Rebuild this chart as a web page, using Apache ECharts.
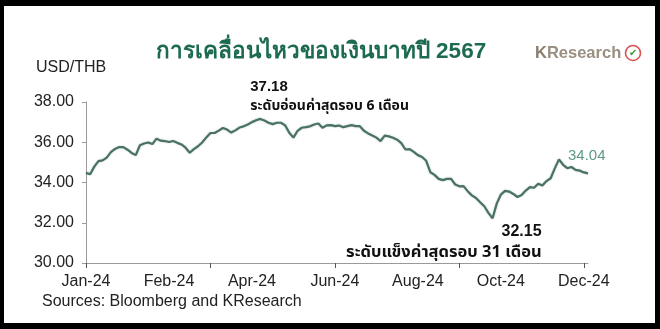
<!DOCTYPE html>
<html>
<head>
<meta charset="utf-8">
<script src="https://cdn.jsdelivr.net/npm/echarts@6/dist/echarts.min.js"></script>
<style>
html,body{margin:0;padding:0;background:#fff;}
#c{width:660px;height:329px;}
</style>
</head>
<body>
<div id="c"></div>
<script>
// USD/THB 2024
var usdthb = [
34.48,34.41,34.79,35.06,35.10,35.24,35.51,35.67,35.76,35.76,
35.63,35.47,35.36,35.85,35.94,35.99,35.91,36.18,36.08,36.06,
36.01,36.06,35.97,35.89,35.73,35.48,35.66,35.80,35.99,36.24,
36.46,36.46,36.58,36.71,36.63,36.48,36.59,36.73,36.79,36.88,
37.00,37.09,37.16,37.08,36.97,36.90,36.97,36.97,36.84,36.47,
36.23,36.57,36.72,36.75,36.79,36.88,36.93,36.72,36.84,36.85,
36.80,36.83,36.75,36.80,36.85,36.80,36.80,36.57,36.44,36.34,
36.23,36.06,36.33,36.29,36.22,36.13,35.96,35.64,35.66,35.52,
35.36,35.27,35.08,34.51,34.38,34.18,34.12,34.18,34.18,33.90,
33.81,33.82,33.57,33.36,33.23,33.02,32.82,32.49,32.22,32.95,
33.40,33.58,33.55,33.43,33.28,33.38,33.60,33.77,33.74,33.94,
33.85,34.07,34.21,34.70,35.15,34.88,34.71,34.77,34.63,34.59,
34.50,34.45
];
var tickLabels = ['Jan-24','Feb-24','Apr-24','Jun-24','Aug-24','Oct-24','Dec-24'];
var yTicks = [30, 32, 34, 36, 38];
var labelEvery = 20;
var tickEvery = 30;
var maxIdx = 42, maxText = '37.18', maxNote = 'ระดับอ่อนค่าสุดรอบ 6 เดือน';
var minIdx = 98, minText = '32.15', minNote = 'ระดับแข็งค่าสุดรอบ 31 เดือน';
var lastText = '34.04';

var categories = usdthb.map(function(v,i){return i;});
var FONT = '"Liberation Sans", Arial, "Noto Sans Thai", "Noto Sans", sans-serif';
var THFONT = '"Noto Sans Thai", "Noto Sans Thai UI", "Leelawadee UI", Tahoma, "Liberation Sans", sans-serif';

var chart = echarts.init(document.getElementById('c'), null, {renderer:'canvas'});
var lastIdx = usdthb.length - 1;
chart.setOption({
  animation:false,
  backgroundColor:'#ffffff',
  grid:{left:86, right:72, top:102, bottom:66, containLabel:false},
  xAxis:{
    type:'category', data:categories, boundaryGap:false,
    axisLine:{lineStyle:{color:'#9a9a9a', width:1}},
    axisTick:{show:true, interval:tickEvery-1, length:5, lineStyle:{color:'#555'}},
    axisLabel:{interval:labelEvery-1, margin:11, color:'#222', fontSize:16, fontFamily:FONT,
      formatter:function(v){var k=Number(v)/labelEvery; return tickLabels[k]||'';}},
    splitLine:{show:false}
  },
  yAxis:{
    type:'value', min:yTicks[0], max:yTicks[yTicks.length-1], interval:2,
    axisLine:{show:true, lineStyle:{color:'#9a9a9a', width:1}},
    axisTick:{show:true, length:4, lineStyle:{color:'#9a9a9a'}},
    axisLabel:{margin:12, color:'#222', fontSize:16, fontFamily:FONT,
      formatter:function(v){return v.toFixed(2);}},
    splitLine:{show:false}
  },
  series:[{
    type:'line', data:usdthb, symbol:'none', smooth:false,
    lineStyle:{color:'#4a7263', width:2.2, shadowColor:'rgba(70,111,97,0.35)', shadowBlur:2},
    markPoint:{
      symbol:'circle', symbolSize:0, silent:true,
      data:[
        {coord:[maxIdx, usdthb[maxIdx]], value:0,
         label:{show:true, position:'inside', align:'left', verticalAlign:'middle', offset:[-10,-22],
           formatter:'{a|'+maxText+'}\n{b|'+maxNote+'}',
           rich:{a:{fontSize:15, fontWeight:'bold', color:'#111', fontFamily:FONT, lineHeight:21},
                 b:{fontSize:14, fontWeight:'bold', color:'#111', fontFamily:THFONT, lineHeight:21}}}},
        {coord:[minIdx, usdthb[minIdx]], value:0,
         label:{show:true, position:'inside', align:'right', verticalAlign:'middle', offset:[49,24],
           formatter:'{a|'+minText+'}\n{b|'+minNote+'}',
           rich:{a:{fontSize:16, fontWeight:'bold', color:'#111', fontFamily:FONT, lineHeight:22, align:'right'},
                 b:{fontSize:16.5, fontWeight:'bold', color:'#111', fontFamily:THFONT, lineHeight:22, align:'right'}}}},
        {coord:[lastIdx, usdthb[lastIdx]], value:0,
         label:{show:true, position:'inside', align:'left', verticalAlign:'middle', offset:[-20,-18],
           formatter:lastText, fontSize:15, color:'#5e9985', fontFamily:FONT}}
      ]
    }
  }],
  graphic:[
    {type:'text', x:321, y:40, style:{text:'การเคลื่อนไหวของเงินบาทปี 2567', align:'center', fontSize:22.5, fontWeight:'bold', fill:'#1c6a50', font:'bold 22.5px '+THFONT}},
    {type:'text', left:535, top:45, style:{rich:{k:{fontSize:16.5, fontWeight:'bold', fill:'#8a7e6e', fontFamily:FONT},
       r:{fontSize:16.5, fontWeight:'bold', fill:'#9a8f80', fontFamily:FONT}}, text:'{k|K}{r|Research}'}},
    {type:'circle', shape:{cx:633, cy:53, r:7.5}, style:{fill:'#fff', stroke:'#d9534f', lineWidth:1.6}},
    {type:'text', x:633, y:53, style:{text:'✔', fontSize:10, fill:'#3a9a3a', align:'center', verticalAlign:'middle'}},
    {type:'text', left:36, top:60, style:{text:'USD/THB', fontSize:16, fill:'#222', fontFamily:FONT}},
    {type:'text', left:42, top:294, style:{text:'Sources: Bloomberg and KResearch', fontSize:16, fill:'#222', fontFamily:FONT}},
    {type:'rect', shape:{x:0, y:0, width:660, height:6}, style:{fill:'#000'}},
    {type:'rect', shape:{x:0, y:0, width:4, height:329}, style:{fill:'#000'}},
    {type:'rect', shape:{x:655, y:0, width:5, height:329}, style:{fill:'#000'}},
    {type:'rect', shape:{x:0, y:323, width:660, height:6}, style:{fill:'#000'}}
  ]
});
</script>
</body>
</html>
